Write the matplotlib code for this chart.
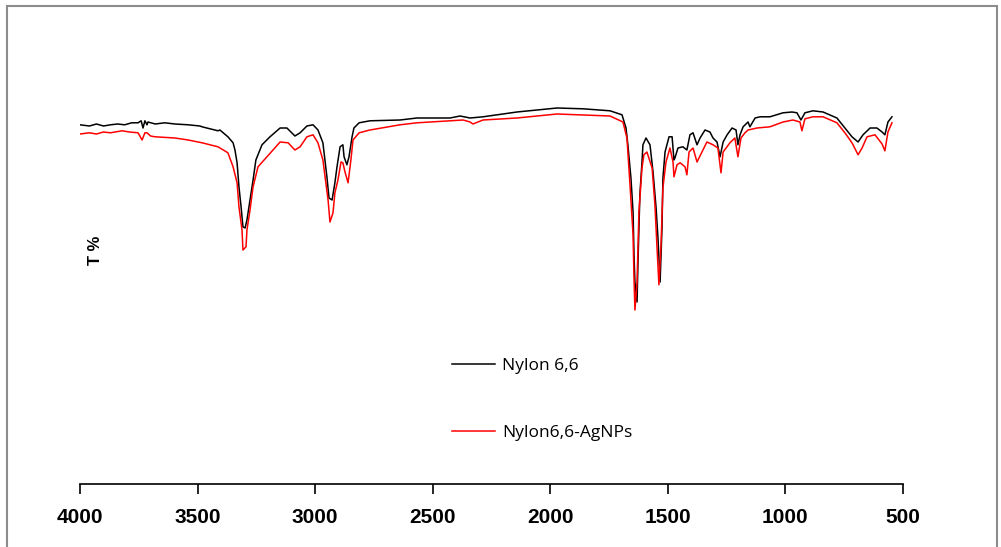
import matplotlib
matplotlib.use("Agg")
import matplotlib.pyplot as plt
from matplotlib.patches import Rectangle

# FTIR spectra, wavenumber (cm-1) vs transmittance (arbitrary T % scale)
nylon_wn = [4000, 3960, 3930, 3900, 3870, 3840, 3810, 3780, 3753, 3740, 3732,
            3724, 3715, 3711, 3680, 3640, 3596, 3540, 3490, 3481, 3413, 3405,
            3371, 3349, 3341, 3332, 3324, 3315, 3307, 3298, 3290, 3277, 3264,
            3252, 3226, 3192, 3149, 3120, 3086, 3064, 3035, 3009, 2988, 2967,
            2950, 2941, 2928, 2916, 2907, 2894, 2882, 2877, 2865, 2856, 2843,
            2835, 2813, 2767, 2639, 2567, 2426, 2384, 2341, 2286, 2142, 1971,
            1861, 1746, 1695, 1678, 1670, 1657, 1648, 1644, 1640, 1631, 1627,
            1619, 1610, 1606, 1593, 1576, 1563, 1550, 1542, 1533, 1525, 1521,
            1512, 1495, 1482, 1474, 1470, 1457, 1436, 1419, 1406, 1393, 1376,
            1363, 1342, 1321, 1308, 1291, 1278, 1265, 1248, 1227, 1210, 1202,
            1193, 1180, 1159, 1151, 1129, 1108, 1066, 1010, 972, 951, 934, 917,
            883, 840, 781, 747, 717, 691, 670, 640, 611, 589, 577, 564, 547]
nylon_t = [89.8, 89.5, 90.0, 89.5, 89.8, 90.0, 89.8, 90.3, 90.3, 90.8, 89.0,
           90.8, 89.8, 90.5, 90.0, 90.3, 90.0, 89.8, 89.5, 89.3, 88.3, 88.5,
           86.8, 85.3, 83.5, 80.3, 74.3, 69.3, 64.3, 64.0, 66.0, 71.0, 76.0,
           81.0, 84.8, 86.8, 89.0, 89.0, 87.0, 87.8, 89.5, 89.8, 88.5, 85.3,
           76.8, 71.5, 71.0, 75.3, 79.3, 84.3, 84.8, 81.8, 79.8, 81.8, 86.8,
           89.0, 90.3, 90.8, 91.0, 91.5, 91.5, 92.0, 91.5, 91.8, 93.0, 94.0,
           93.8, 93.3, 92.3, 89.0, 84.8, 76.5, 68.0, 57.3, 50.5, 45.5, 55.5,
           72.3, 80.5, 84.8, 86.5, 84.8, 78.0, 69.0, 61.5, 50.5, 64.0, 76.5,
           83.0, 86.8, 86.8, 81.0, 81.5, 84.0, 84.3, 83.5, 87.3, 87.8, 84.8,
           86.5, 88.5, 88.0, 86.5, 85.5, 81.8, 85.5, 87.3, 89.0, 88.5, 84.8,
           87.3, 89.3, 90.5, 89.3, 91.5, 91.8, 91.8, 92.8, 93.0, 92.8, 91.0,
           92.8, 93.3, 93.0, 91.5, 89.0, 86.8, 85.5, 87.3, 89.0, 89.0, 88.0,
           87.3, 90.5, 91.8]

agnp_wn = [4000, 3960, 3930, 3900, 3870, 3851, 3821, 3790, 3753, 3736, 3724,
           3715, 3700, 3681, 3596, 3540, 3481, 3413, 3371, 3349, 3332, 3324,
           3311, 3307, 3294, 3290, 3277, 3264, 3243, 3205, 3149, 3115, 3086,
           3064, 3035, 3009, 2988, 2967, 2945, 2937, 2924, 2916, 2903, 2890,
           2882, 2873, 2860, 2848, 2839, 2813, 2767, 2639, 2567, 2426, 2371,
           2341, 2329, 2286, 2142, 1971, 1746, 1691, 1674, 1661, 1648, 1644,
           1640, 1631, 1623, 1610, 1602, 1589, 1567, 1555, 1546, 1538, 1529,
           1521, 1508, 1491, 1478, 1474, 1461, 1448, 1427, 1419, 1410, 1393,
           1376, 1355, 1334, 1308, 1287, 1274, 1265, 1236, 1215, 1202, 1189,
           1172, 1159, 1121, 1066, 1010, 968, 938, 930, 917, 883, 840, 781,
           747, 717, 691, 674, 653, 619, 589, 577, 564, 547]
agnp_t = [87.5, 87.8, 87.5, 88.0, 87.8, 88.0, 88.3, 88.0, 87.8, 86.0, 87.8,
          87.8, 87.0, 86.8, 86.5, 86.0, 85.3, 84.3, 82.8, 79.3, 75.3, 69.3,
          63.5, 58.5, 59.3, 63.5, 68.5, 74.3, 79.3, 81.8, 85.5, 85.3, 83.5,
          84.3, 86.8, 87.3, 85.3, 81.0, 71.0, 65.5, 67.8, 72.8, 76.0, 80.5,
          80.3, 78.0, 75.3, 81.0, 86.0, 87.8, 88.5, 89.8, 90.3, 90.8, 91.0,
          90.5, 90.0, 91.0, 91.5, 92.5, 92.0, 90.5, 86.5, 74.8, 62.3, 51.5,
          43.5, 50.5, 68.0, 79.0, 82.3, 83.0, 79.0, 69.8, 59.0, 49.8, 59.8,
          74.0, 80.5, 84.0, 80.5, 76.8, 79.8, 80.3, 79.3, 77.3, 83.0, 84.0,
          80.5, 83.0, 85.5, 84.8, 84.0, 77.8, 83.0, 85.3, 86.5, 81.8, 86.5,
          87.8, 88.5, 89.0, 89.3, 90.5, 91.0, 90.5, 88.3, 91.3, 91.8, 91.8,
          90.3, 87.8, 85.3, 82.3, 84.0, 86.8, 87.3, 85.0, 83.3, 88.0, 90.3]

xticks = [4000, 3500, 3000, 2500, 2000, 1500, 1000, 500]

W, H = 1001, 547
fig = plt.figure(figsize=(W / 100, H / 100), dpi=100)
ax = fig.add_axes([80 / W, 1 - 484 / H, 823 / W, 444 / H])

ax.plot(nylon_wn, nylon_t, color="black", lw=1.1, label="Nylon 6,6")
ax.plot(agnp_wn, agnp_t, color="#ff0000", lw=1.1, label="Nylon6,6-AgNPs")

ax.set_xlim(4000, 500)
ax.set_ylim(0, 111)
ax.set_xticks(xticks)
ax.set_xticklabels([str(t) for t in xticks], fontweight="bold",
                   fontsize=15, family="Liberation Sans")
ax.tick_params(axis="x", direction="out", length=7, width=1.2, pad=10,
               color="black")
ax.set_yticks([])
for s in ("top", "right", "left"):
    ax.spines[s].set_visible(False)
ax.spines["bottom"].set_linewidth(1.2)

fig.text(96 / W, 1 - 250 / H, "T %", rotation=90, ha="center", va="center",
         fontsize=12, fontweight="bold", family="Liberation Sans")

ax.legend(loc="upper left", bbox_to_anchor=(436 / W, 1 - 342 / H),
          bbox_transform=fig.transFigure, frameon=False,
          handlelength=2.5, handletextpad=0.4, labelspacing=2.95,
          prop={"family": "Open Sans", "size": 12.5})

# outer grey frame of the chart area
fig.patches.append(Rectangle((7 / W, -0.02), 990 / W, 1 - 6 / H + 0.02,
                             transform=fig.transFigure, fill=False,
                             edgecolor="#8c8c8c", lw=1.5))

fig.savefig("out.png", dpi=100)
